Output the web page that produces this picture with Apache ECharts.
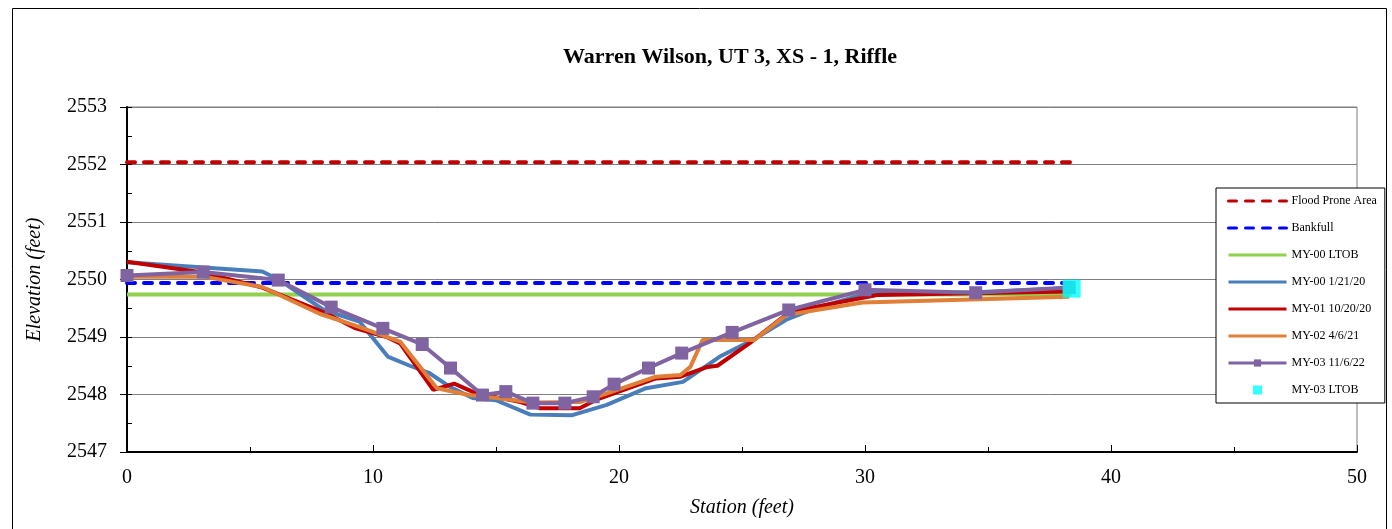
<!DOCTYPE html>
<html>
<head>
<meta charset="utf-8">
<script src="https://cdn.jsdelivr.net/npm/echarts@6/dist/echarts.min.js"></script>
<style>
html,body{margin:0;padding:0;background:#fff;}
#chart{width:1392px;height:529px;}
</style>
</head>
<body>
<div id="chart"></div>
<script>
// ---- Data ----
const xTicks = [0, 10, 20, 30, 40, 50];
const yTicks = [2547, 2548, 2549, 2550, 2551, 2552, 2553];

const floodProneX = [0, 38.4];
const floodProneY = [2552.04, 2552.04];
const bankfullX = [0, 38.4];
const bankfullY = [2549.94, 2549.94];
const ltob00X = [0, 38.4];
const ltob00Y = [2549.74, 2549.74];

const my00X = [0, 5.5, 6.2, 8.0, 9.45, 10.6, 11.5, 12.3, 13.1, 14.05, 15.0, 16.4, 18.1, 19.5, 21.1, 22.6, 24.1, 25.45, 26.8, 28.0, 30.0, 34.5, 38.3];
const my00Y = [2550.3, 2550.14, 2549.99, 2549.47, 2549.27, 2548.66, 2548.5, 2548.37, 2548.14, 2547.94, 2547.9, 2547.65, 2547.64, 2547.82, 2548.11, 2548.22, 2548.66, 2548.95, 2549.3, 2549.5, 2549.75, 2549.78, 2549.85];

const my01X = [0, 3.1, 5.5, 8.1, 9.3, 10.55, 11.1, 12.45, 13.3, 14.2, 16.0, 16.8, 18.4, 18.9, 19.2, 21.5, 22.5, 23.6, 24.0, 25.3, 26.95, 30.5, 38.3];
const my01Y = [2550.31, 2550.12, 2549.86, 2549.41, 2549.15, 2549.0, 2548.89, 2548.08, 2548.19, 2548.02, 2547.87, 2547.76, 2547.76, 2547.87, 2547.93, 2548.28, 2548.31, 2548.48, 2548.5, 2548.89, 2549.44, 2549.73, 2549.79];

const my02X = [0, 3.1, 5.5, 7.85, 9.2, 11.1, 12.6, 13.9, 15.2, 16.5, 18.4, 19.1, 21.5, 22.5, 22.9, 23.4, 25.5, 26.8, 27.9, 29.9, 38.3];
const my02Y = [2550.05, 2550.05, 2549.87, 2549.4, 2549.21, 2548.92, 2548.11, 2547.99, 2547.93, 2547.86, 2547.87, 2547.96, 2548.31, 2548.34, 2548.48, 2548.95, 2548.95, 2549.38, 2549.46, 2549.6, 2549.7];

const my03X = [0, 3.1, 6.15, 8.3, 10.4, 12.0, 13.15, 14.45, 15.4, 16.5, 17.8, 18.95, 19.8, 21.2, 22.55, 24.6, 26.9, 30.0, 34.5, 38.3];
const my03Y = [2550.07, 2550.13, 2549.99, 2549.52, 2549.15, 2548.87, 2548.46, 2547.99, 2548.05, 2547.85, 2547.85, 2547.96, 2548.18, 2548.46, 2548.72, 2549.08, 2549.47, 2549.82, 2549.77, 2549.86];

const ltob03X = [38.4];
const ltob03Y = [2549.84];

const names = ['Flood Prone Area', 'Bankfull', 'MY-00 LTOB', 'MY-00 1/21/20', 'MY-01 10/20/20', 'MY-02 4/6/21', 'MY-03 11/6/22', 'MY-03 LTOB'];

// ---- Build ----
const zip = (xs, ys) => xs.map((x, i) => [x, ys[i]]);
const FONT = 'Liberation Serif';

function lineSeries(name, xs, ys, color, opts) {
  opts = opts || {};
  return Object.assign({
    name: name,
    type: 'line',
    xAxisIndex: 0, yAxisIndex: 0,
    data: zip(xs, ys),
    symbol: 'none',
    lineStyle: Object.assign({ color: color, width: 4 }, opts.lineStyle || {}),
    itemStyle: { color: color },
    emphasis: { disabled: true },
    z: opts.z || 2
  }, opts.extra || {});
}

const series = [
  lineSeries(names[0], floodProneX, floodProneY, '#C00000', { lineStyle: { type: [8, 9], cap: 'round', width: 4 } }),
  lineSeries(names[1], bankfullX, bankfullY, '#0000FF', { lineStyle: { type: [8, 9], cap: 'round', width: 4 } }),
  lineSeries(names[2], ltob00X, ltob00Y, '#92D050'),
  lineSeries(names[3], my00X, my00Y, '#4A7EBB'),
  lineSeries(names[4], my01X, my01Y, '#C00000'),
  lineSeries(names[5], my02X, my02Y, '#E07F38'),
  lineSeries(names[6], my03X, my03Y, '#8064A2', { extra: { symbol: 'rect', symbolSize: 13, showSymbol: true } }),
  {
    name: names[7], type: 'scatter', xAxisIndex: 0, yAxisIndex: 0,
    data: zip(ltob03X, ltob03Y), symbol: 'rect', symbolSize: 18,
    itemStyle: { color: '#00FFFF' }, emphasis: { disabled: true }, z: 3
  }
];

const legendData = names.map((n, i) => {
  if (i === 6) return { name: n };
  if (i === 7) return { name: n, icon: 'path://M0,0L1,0L1,1L0,1Z' };
  return { name: n, itemStyle: { opacity: 0 } };
});

const chart = echarts.init(document.getElementById('chart'), null, { renderer: 'canvas' });
chart.setOption({
  animation: false,
  backgroundColor: '#fff',
  title: {
    text: 'Warren Wilson, UT 3, XS - 1, Riffle',
    left: 725, top: 41, textAlign: 'center',
    textStyle: { fontFamily: FONT, fontSize: 22, fontWeight: 'bold', color: '#000' }
  },
  graphic: [{
    type: 'rect', shape: { x: 12.5, y: 8.5, width: 1374, height: 530 },
    style: { fill: 'none', stroke: '#000', lineWidth: 1 }, silent: true, z: -1
  }],
  grid: { left: 127, right: 35, top: 107, bottom: 77, show: true, borderColor: '#7f7f7f', borderWidth: 1, backgroundColor: 'transparent' },
  legend: {
    orient: 'vertical', left: 1216, top: 188,
    data: legendData,
    backgroundColor: '#fff', borderColor: '#000', borderWidth: 1,
    padding: [7, 8, 7, 11],
    itemWidth: 58, itemHeight: 9, itemGap: 15,
    symbolKeepAspect: true,
    lineStyle: { width: 3 },
    textStyle: { fontFamily: FONT, fontSize: 12, color: '#000', lineHeight: 12 },
    selectedMode: false
  },
  xAxis: [{
    type: 'value', min: 0, max: 50, interval: 10,
    name: 'Station (feet)', nameLocation: 'middle', nameGap: 46,
    nameTextStyle: { fontFamily: FONT, fontSize: 20, fontStyle: 'italic', color: '#000' },
    axisLine: { show: true, onZero: false, lineStyle: { color: '#000', width: 2 } },
    axisTick: { show: true, inside: true, length: 7, lineStyle: { color: '#000' } },
    minorTick: { show: true, splitNumber: 2, length: 5, lineStyle: { color: '#000' } },
    axisLabel: { fontFamily: FONT, fontSize: 20, color: '#000', margin: 16,
      formatter: v => (xTicks.indexOf(v) >= 0 ? String(v) : '') },
    splitLine: { show: false }
  }],
  yAxis: [{
    type: 'value', min: 2547, max: 2553, interval: 1,
    name: 'Elevation (feet)', nameLocation: 'middle', nameGap: 82, nameRotate: 90,
    nameTextStyle: { fontFamily: FONT, fontSize: 20, fontStyle: 'italic', color: '#000' },
    axisLine: { show: true, onZero: false, lineStyle: { color: '#000', width: 2 } },
    axisTick: { show: true, inside: false, length: 7, lineStyle: { color: '#000' } },
    axisLabel: { fontFamily: FONT, fontSize: 20, color: '#000', margin: 20,
      formatter: v => (yTicks.indexOf(v) >= 0 ? String(v) : '') },
    splitLine: { show: true, lineStyle: { color: '#7f7f7f', width: 1 } }
  }, {
    type: 'value', min: 2547, max: 2553, interval: 0.5, position: 'left',
    axisLine: { show: false }, axisLabel: { show: false }, splitLine: { show: false },
    axisTick: { show: true, inside: true, length: 5, lineStyle: { color: '#000' } }
  }],
  series: series
});
</script>
</body>
</html>
